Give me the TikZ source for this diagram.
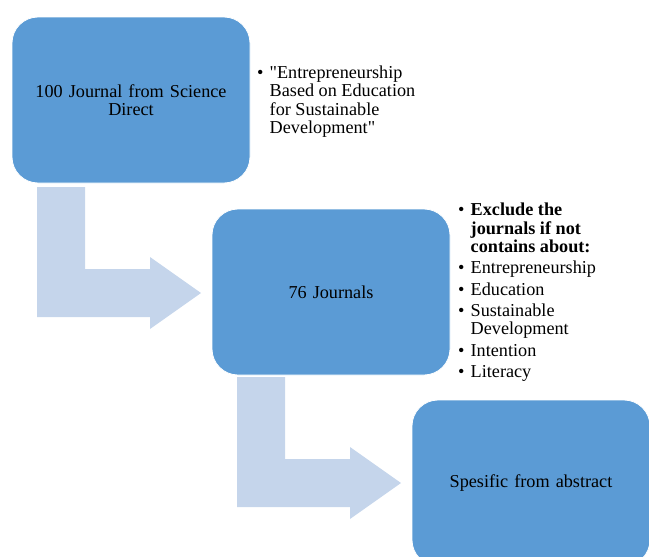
\documentclass[tikz,border=0pt]{standalone}
\usepackage{fontspec}
\setmainfont{Liberation Serif}
\newfontfamily\plainquotefont{Liberation Serif}
\newcommand{\straightquote}{{\plainquotefont\symbol{34}}}
\begin{document}
\begin{tikzpicture}[x=1pt,y=-1pt,
  stagebox/.style={rectangle, rounded corners=26pt, fill=boxblue, draw=white, line width=0.8pt,
    minimum width=238pt, minimum height=166pt, inner sep=0pt, align=center, text width=210pt,
    font=\fontsize{18.2}{18}\selectfont},
  listtext/.style={anchor=north west, inner sep=0pt, align=left,
    font=\fontsize{18.2}{18}\selectfont},
  bentarrow/.style={fill=arrowblue, draw=none}]
\definecolor{boxblue}{HTML}{5B9BD5}
\definecolor{arrowblue}{HTML}{C5D5EB}
\useasboundingbox (0,0) rectangle (649,557);
\clip (0,0) rectangle (649,557);
% bent arrows
\fill[bentarrow] (37,187) -- (85,187) -- (85,269) -- (150,269) -- (150,257) -- (201,293)
  -- (150,329) -- (150,317) -- (37,317) -- cycle;
\fill[bentarrow] (237,377) -- (285,377) -- (285,459) -- (350,459) -- (350,447) -- (401,483)
  -- (350,519) -- (350,507) -- (237,507) -- cycle;
% boxes
\node[stagebox] (b1) at (131,100) {100 Journal from Science\\Direct};
\node[stagebox] (b2) at (331,292) {76 Journals};
\node[stagebox] (b3) at (531,483) {Spesific from abstract};
% lists
\node[listtext] (l1) at (257,66) {%
  \begin{tabular}{@{}p{12.5pt}@{}l@{}}
  \textbullet & \straightquote Entrepreneurship\\
   & Based on Education\\
   & for Sustainable\\
   & Development\straightquote
  \end{tabular}};
\node[listtext] (l2) at (458,203) {%
  \begin{tabular}{@{}p{12.5pt}@{}l@{}}
  \textbullet & \textbf{Exclude the}\\
   & \textbf{journals if not}\\
   & \textbf{contains about:}\\[3.5pt]
  \textbullet & Entrepreneurship\\[3.5pt]
  \textbullet & Education\\[3.5pt]
  \textbullet & Sustainable\\
   & Development\\[3.5pt]
  \textbullet & Intention\\[3.5pt]
  \textbullet & Literacy
  \end{tabular}};
\end{tikzpicture}
\end{document}
